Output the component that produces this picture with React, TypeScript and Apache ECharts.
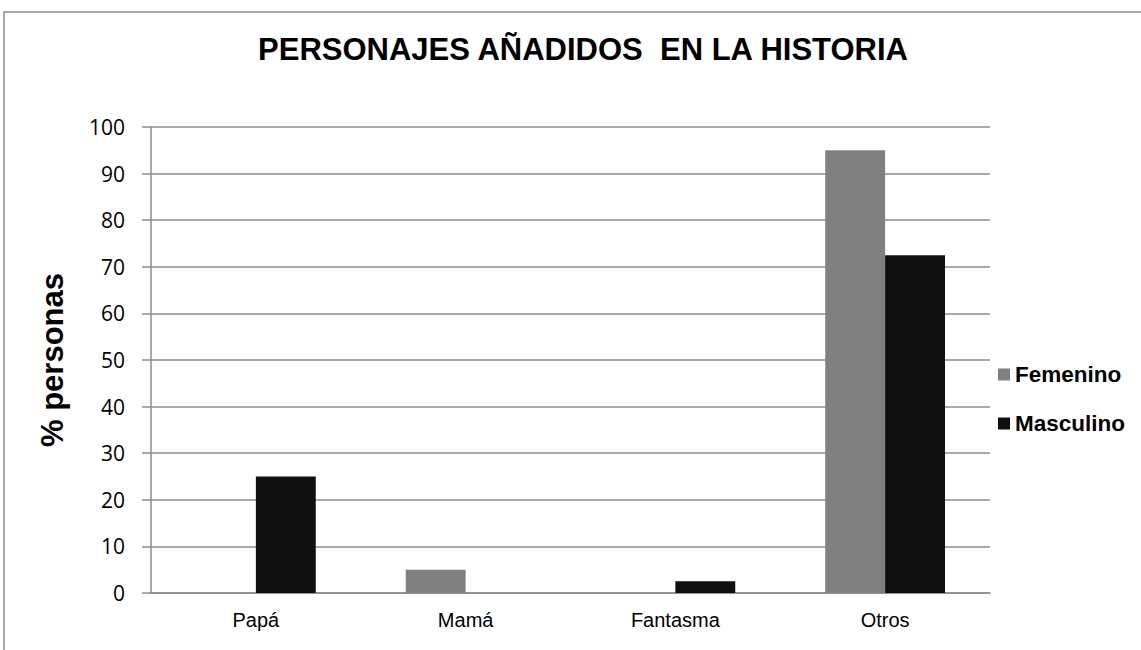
import React, { useEffect, useRef } from "react";
import * as echarts from "echarts";

const categories = ["Papá", "Mamá", "Fantasma", "Otros"];
const femenino = [0, 5, 0, 95];
const masculino = [25, 0, 2.5, 72.5];
const seriesNames = ["Femenino", "Masculino"];
const titleText = "PERSONAJES AÑADIDOS  EN LA HISTORIA";
const yAxisName = "% personas";

const FONT = "'Liberation Sans', Arial, sans-serif";

export default function App() {
  const ref = useRef<HTMLDivElement>(null);
  useEffect(() => {
    if (!ref.current) return;
    const chart = echarts.init(ref.current, undefined, { renderer: "svg" });
    chart.setOption({
      animation: false,
      backgroundColor: "#ffffff",
      graphic: [
        {
          type: "rect",
          shape: { x: 4, y: 12, width: 1200, height: 700 },
          style: { fill: "none", stroke: "#8c8c8c", lineWidth: 1.5 },
          silent: true,
        },
        {
          type: "text",
          x: 583,
          y: 49,
          style: {
            text: titleText,
            font: `bold 31px ${FONT}`,
            fill: "#000000",
            textAlign: "center",
            textVerticalAlign: "middle",
          },
        },
      ],
      legend: {
        orient: "vertical",
        left: 993,
        top: 358,
        itemWidth: 12,
        itemHeight: 12,
        itemGap: 26,
        icon: "rect",
        textStyle: { fontFamily: FONT, fontWeight: "bold", fontSize: 22.5, color: "#000" },
        data: seriesNames,
      },
      grid: { left: 151, right: 151, top: 127, bottom: 57, containLabel: false },
      xAxis: {
        type: "category",
        data: categories,
        axisTick: { show: false },
        axisLine: { lineStyle: { color: "#8c8c8c", width: 1.5 } },
        axisLabel: { fontFamily: FONT, fontSize: 20, color: "#000", margin: 17 },
      },
      yAxis: {
        type: "value",
        min: 0,
        max: 100,
        interval: 10,
        name: yAxisName,
        nameLocation: "middle",
        nameGap: 83,
        nameTextStyle: { fontFamily: FONT, fontWeight: "bold", fontSize: 31, color: "#000" },
        axisLine: { show: true, lineStyle: { color: "#8c8c8c", width: 1.5 } },
        axisTick: { show: true, length: 9, lineStyle: { color: "#8c8c8c", width: 1.5 } },
        splitLine: { lineStyle: { color: "#8c8c8c", width: 1.5 } },
        axisLabel: { fontFamily: "'Open Sans', sans-serif", fontSize: 21, color: "#000", margin: 26 },
      },
      series: [
        {
          name: seriesNames[0],
          type: "bar",
          data: femenino,
          barGap: "0%",
          barCategoryGap: "42.9%",
          itemStyle: { color: "#808080" },
        },
        {
          name: seriesNames[1],
          type: "bar",
          data: masculino,
          barGap: "0%",
          barCategoryGap: "42.9%",
          itemStyle: { color: "#0f0f0f" },
        },
      ],
    });
    return () => chart.dispose();
  }, []);
  return (
    <div
      ref={ref}
      style={{ position: "fixed", left: 0, top: 0, width: 1141, height: 650 }}
    />
  );
}
